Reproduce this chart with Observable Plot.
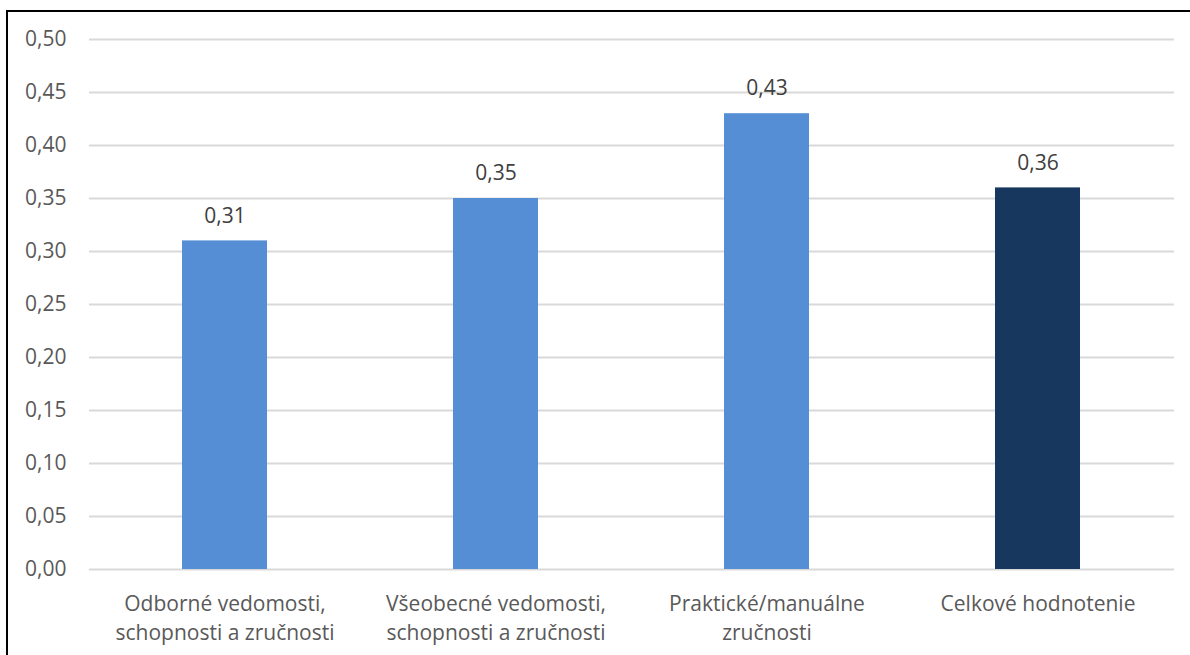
<!DOCTYPE html>
<html>
<head>
<meta charset="utf-8">
<script src="https://cdn.jsdelivr.net/npm/d3@7"></script>
<script src="https://cdn.jsdelivr.net/npm/@observablehq/plot@0.6"></script>
<style>
  html, body { margin: 0; padding: 0; background: #fff; }
  #wrap { position: relative; width: 1190px; height: 655px; overflow: hidden; }
  #frame { position: absolute; left: 6px; top: 10px; width: 1300px; height: 800px;
           border-left: 2px solid #000; border-top: 2px solid #000; pointer-events: none; }
</style>
</head>
<body>
<div id="wrap"><div id="frame"></div></div>
<script>
const categories = [
  "Odborné vedomosti,\nschopnosti a zručnosti",
  "Všeobecné vedomosti,\nschopnosti a zručnosti",
  "Praktické/manuálne\nzručnosti",
  "Celkové hodnotenie"
];
const values = [0.31, 0.35, 0.43, 0.36];
const barColors = ["#558ED5", "#558ED5", "#558ED5", "#17375E"];
const yTicks = [0, 0.05, 0.10, 0.15, 0.20, 0.25, 0.30, 0.35, 0.40, 0.45, 0.50];

const data = categories.map((c, i) => ({cat: c, value: values[i], color: barColors[i]}));
const fmt = d => d.toFixed(2).replace(".", ",");

const chart = Plot.plot({
  width: 1190,
  height: 655,
  marginLeft: 89,
  marginRight: 16,
  marginTop: 39,
  marginBottom: 86,
  style: {fontFamily: "'Open Sans', sans-serif", fontSize: "21px", color: "#595959", background: "transparent"},
  x: {domain: categories, paddingInner: 0.686, paddingOuter: 0.343, label: null},
  y: {domain: [0, 0.5], label: null},
  marks: [
    Plot.gridY(yTicks, {stroke: "#D9D9D9", strokeOpacity: 1, strokeWidth: 2}),
    Plot.barY(data, {x: "cat", y: "value", fill: "color"}),
    Plot.text(data, {x: "cat", y: "value", text: d => fmt(d.value), dy: -25, fill: "#404040", fontSize: 21}),
    Plot.axisY(yTicks, {tickSize: 0, tickPadding: 23, tickFormat: fmt, fill: "#595959", fontSize: 21}),
    Plot.axisX({tickSize: 0, tickPadding: 21, lineHeight: 1.38, fill: "#595959", fontSize: 21})
  ]
});
document.getElementById("wrap").prepend(chart);
</script>
</body>
</html>
